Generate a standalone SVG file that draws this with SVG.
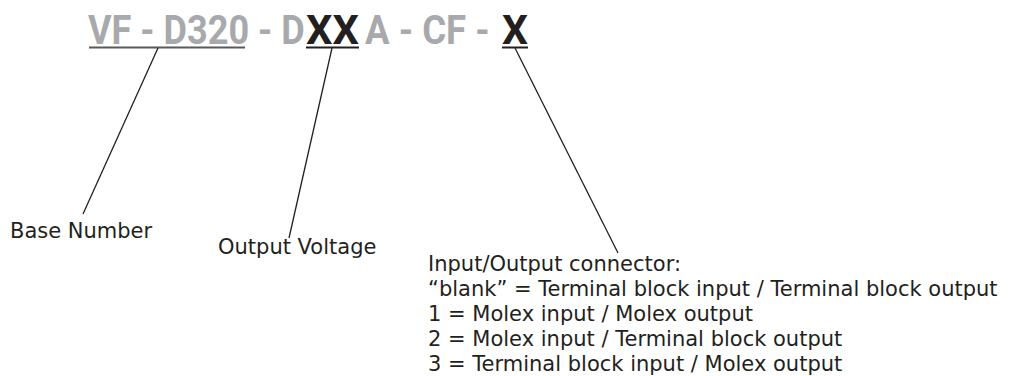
<svg xmlns="http://www.w3.org/2000/svg" width="1011" height="376" viewBox="0 0 1011 376">
<style>
.t{font-family:Roboto,"Liberation Sans",sans-serif;font-weight:bold;font-size:41px}
.g{fill:#a7a9ac}
.k{fill:#231f20}
.ul{stroke-width:2}
.lbl{font-family:"DejaVu Sans",Verdana,sans-serif;font-size:21px;fill:#231f20}
.ln{stroke:#231f20;stroke-width:1.3;fill:none}
</style>
<rect width="1011" height="376" fill="#fff"/>
<g id="title">
<text class="t g" transform="translate(88 44) scale(0.86 1)" x="0" y="0" textLength="252" lengthAdjust="spacingAndGlyphs">VF - D320 - D</text>
<text class="t k" transform="translate(306 44) scale(0.86 1)" x="0" y="0" textLength="61.5" lengthAdjust="spacingAndGlyphs">XX</text>
<text class="t g" transform="translate(365 44) scale(0.86 1)" x="0" y="0" textLength="145" lengthAdjust="spacingAndGlyphs">A - CF -</text>
<text class="t k" transform="translate(502 44) scale(0.86 1)" x="0" y="0" textLength="30.2" lengthAdjust="spacingAndGlyphs">X</text>
</g>
<g id="underlines">
<line x1="89" y1="47.5" x2="245" y2="47.5" stroke="#58595b" class="ul"/>
<line x1="306" y1="47.5" x2="359" y2="47.5" stroke="#231f20" class="ul"/>
<line x1="502" y1="47.5" x2="528" y2="47.5" stroke="#231f20" class="ul"/>
</g>
<g id="connectors">
<line class="ln" x1="158" y1="48" x2="83" y2="214"/>
<line class="ln" x1="332" y1="48" x2="289" y2="238"/>
<line class="ln" x1="515" y1="48" x2="618" y2="253"/>
</g>
<g id="base-number"><text class="lbl" x="10" y="238">Base Number</text></g>
<g id="output-voltage"><text class="lbl" x="218" y="254">Output Voltage</text></g>
<g id="connector-options">
<text class="lbl" x="428" y="271">Input/Output connector:</text>
<text class="lbl" x="428" y="296">“blank” = Terminal block input / Terminal block output</text>
<text class="lbl" x="428" y="321">1 = Molex input / Molex output</text>
<text class="lbl" x="428" y="346">2 = Molex input / Terminal block output</text>
<text class="lbl" x="428" y="371">3 = Terminal block input / Molex output</text>
</g>
</svg>
